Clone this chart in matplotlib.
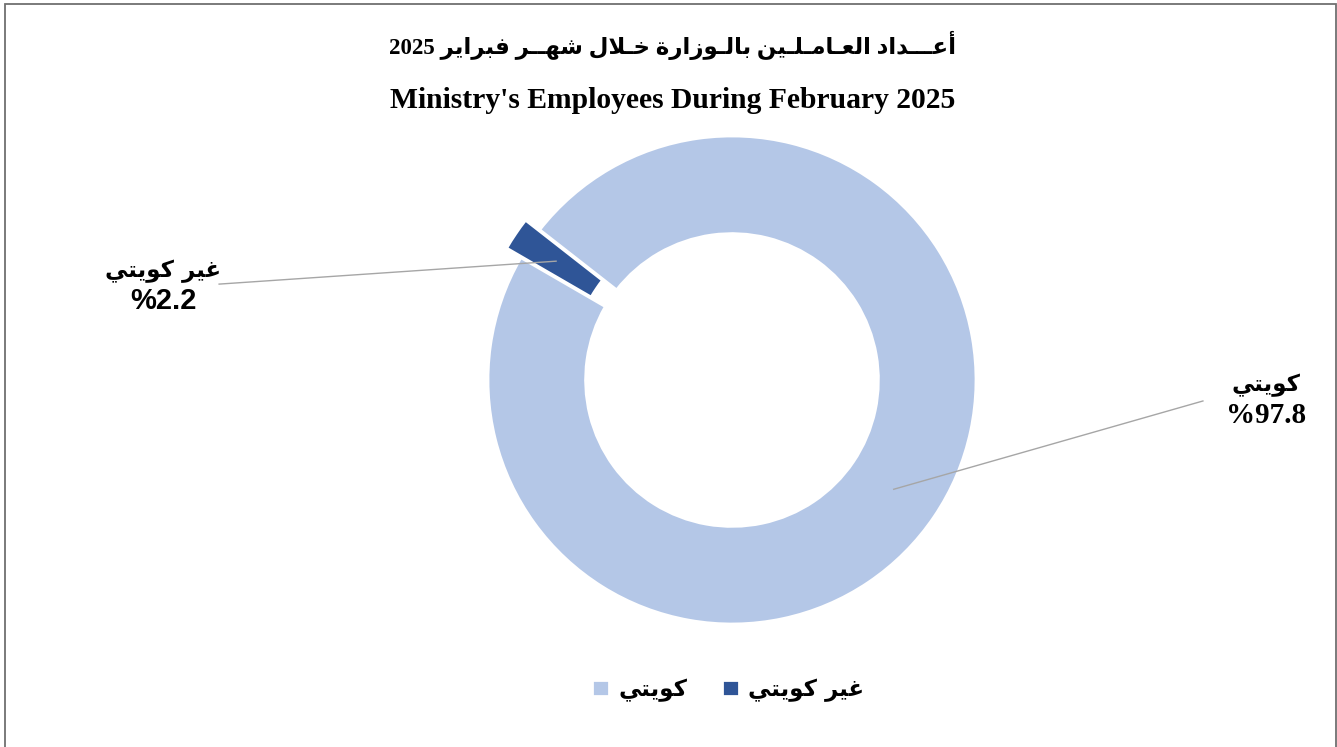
import numpy as np
import matplotlib.pyplot as plt
from matplotlib.patches import Rectangle

# data
labels = ['كويتي', 'غير كويتي']
shares = [97.8, 2.2]
colors = ['#B4C7E7', '#2F5597']
title_ar = 'أعـــداد العـامـلـين بالـوزارة خـلال شهــر فبراير 2025'
title_en = "Ministry's Employees During February 2025"

# minimal arabic shaping (matplotlib has no bidi / joining support)
TATWEEL = '\u0640'
FORMS = {
    # letter: isolated, final, initial, medial
    'ا': ('\ufe8d', '\ufe8e', None, None),
    'أ': ('\ufe83', '\ufe84', None, None),
    'ب': ('\ufe8f', '\ufe90', '\ufe91', '\ufe92'),
    'ة': ('\ufe93', '\ufe94', None, None),
    'ت': ('\ufe95', '\ufe96', '\ufe97', '\ufe98'),
    'خ': ('\ufea5', '\ufea6', '\ufea7', '\ufea8'),
    'د': ('\ufea9', '\ufeaa', None, None),
    'ر': ('\ufead', '\ufeae', None, None),
    'ز': ('\ufeaf', '\ufeb0', None, None),
    'ش': ('\ufeb5', '\ufeb6', '\ufeb7', '\ufeb8'),
    'ع': ('\ufec9', '\ufeca', '\ufecb', '\ufecc'),
    'غ': ('\ufecd', '\ufece', '\ufecf', '\ufed0'),
    'ف': ('\ufed1', '\ufed2', '\ufed3', '\ufed4'),
    'ك': ('\ufed9', '\ufeda', '\ufedb', '\ufedc'),
    'ل': ('\ufedd', '\ufede', '\ufedf', '\ufee0'),
    'م': ('\ufee1', '\ufee2', '\ufee3', '\ufee4'),
    'ن': ('\ufee5', '\ufee6', '\ufee7', '\ufee8'),
    'ه': ('\ufee9', '\ufeea', '\ufeeb', '\ufeec'),
    'و': ('\ufeed', '\ufeee', None, None),
    'ي': ('\ufef1', '\ufef2', '\ufef3', '\ufef4'),
}


def joins_next(ch):
    return ch == TATWEEL or (ch in FORMS and FORMS[ch][2] is not None)


def shape(word):
    glyphs = []
    i = 0
    while i < len(word):
        ch = word[i]
        prev = word[i-1] if i > 0 else None
        nxt = word[i+1] if i + 1 < len(word) else None
        p = prev is not None and joins_next(prev)
        if ch not in FORMS:
            glyphs.append(ch)
            i += 1
            continue
        if ch == 'ل' and nxt == 'ا':
            glyphs.append('\ufefc' if p else '\ufefb')
            i += 2
            continue
        iso, fin, ini, med = FORMS[ch]
        n = nxt is not None and (nxt in FORMS or nxt == TATWEEL) and ini is not None
        if p and n:
            glyphs.append(med)
        elif p:
            glyphs.append(fin)
        elif n:
            glyphs.append(ini)
        else:
            glyphs.append(iso)
        i += 1
    return ''.join(reversed(glyphs))


def rtl(text):
    words = [shape(w) if any(c in FORMS for c in w) else w
             for w in text.split(' ')]
    return ' '.join(reversed(words))


W, H = 1337, 747
fig = plt.figure(figsize=(W/100, H/100), dpi=100)

# pie axes: center (732, 380) px, outer radius 244 px
R = 244
lim = 1.3
side = 2*lim*R
ax = fig.add_axes([(732 - side/2)/W, (H - 380 - side/2)/H, side/W, side/H])

explode = [0, 0.07]
wedges, _ = ax.pie(shares, colors=colors, startangle=142, counterclock=False,
                   explode=explode, radius=1,
                   wedgeprops=dict(width=0.4, edgecolor='white', linewidth=2))
ax.set_xlim(-lim, lim)
ax.set_ylim(-lim, lim)
ax.set_aspect('equal')
ax.axis('off')

ar_font = dict(family='DejaVu Sans', weight='bold')
line_kw = dict(color='#A6A6A6', lw=1, clip_on=False)

# leader lines + labels
label_pos = [(1.93, -0.086), (-2.102, 0.393)]
text_pos = [(2.19, -0.085), (-2.33, 0.385)]
pct_fonts = ['Liberation Serif', 'Liberation Sans']
for w, lab, v, (lx, ly), (tx, ty), ex, pf in zip(wedges, labels, shares, label_pos,
                                                 text_pos, explode, pct_fonts):
    ang = np.deg2rad((w.theta1 + w.theta2) / 2)
    r = 0.8 + ex
    ax.plot([r*np.cos(ang), lx], [r*np.sin(ang), ly], **line_kw)
    ax.text(tx, ty + 0.062, rtl(lab), ha='center', va='center', fontsize=16.5,
            clip_on=False, **ar_font)
    ax.text(tx, ty - 0.062, '%' + str(v), ha='center', va='center', fontsize=21,
            family=pf, weight='bold', clip_on=False)

# titles
fig.text(673/W, 1 - 45/H, rtl(title_ar), ha='center', va='center', fontsize=16.5,
         family=['Liberation Serif', 'DejaVu Sans'], weight='bold')
fig.text(673/W, 1 - 100/H, title_en, ha='center', va='center', fontsize=21.3,
         family='Liberation Serif', weight='bold')

fig.legend(wedges, [rtl(l) for l in labels], loc='center', ncol=2,
           bbox_to_anchor=(728/W, 1 - 690/H), frameon=False,
           prop=dict(family='DejaVu Sans', weight='bold', size=16.5),
           handlelength=0.75, handleheight=0.75, handletextpad=0.4,
           columnspacing=1.5)

# chart border
fig.add_artist(Rectangle((5/W, -0.01), (1336 - 5)/W, 1.01 - 4/H,
                         transform=fig.transFigure, fill=False,
                         edgecolor='#707070', lw=1.3))

fig.savefig('out.png', dpi=100)
